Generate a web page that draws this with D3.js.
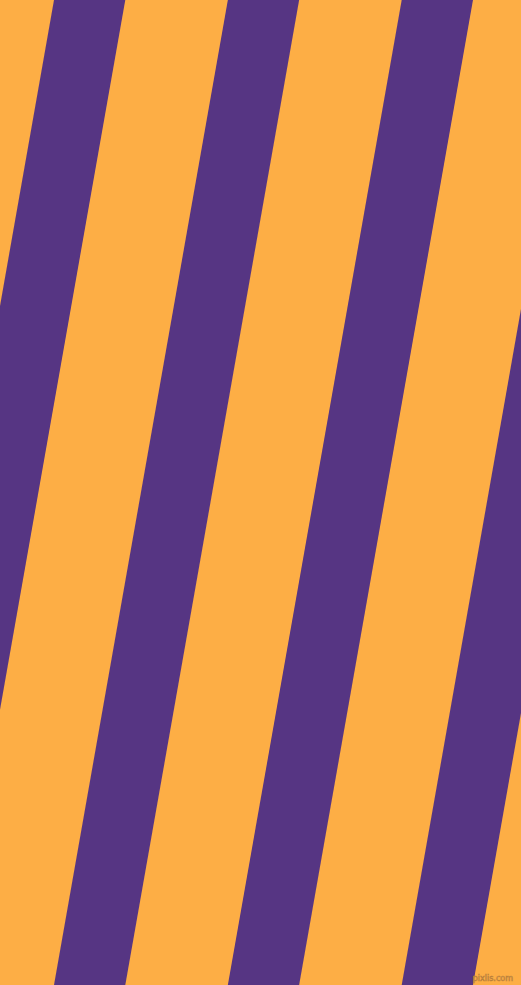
<!DOCTYPE html>
<html>
<head>
<meta charset="utf-8">
<script src="https://cdn.jsdelivr.net/npm/d3@7"></script>
<style>
  html, body { margin: 0; padding: 0; background: #fdae45; }
  svg { display: block; }
</style>
</head>
<body>
<script>
// stripe pattern, 80 degree bands
const width = 521;
const height = 985;

const stripes = [0, 1, 2, 3];           // purple band index
const bandColors = ["#fdae45", "#563583"]; // background, band
const bandShare = 0.41;                 // share of each period taken by a band
const watermark = "pixlis.com";

// band index -> x where the band's left edge meets the top edge
const x = d3.scaleLinear().domain([0, 1]).range([54, 227.85]);
// y -> horizontal drift of an edge (one full period over the height)
const drift = d3.scaleLinear().domain([0, height]).range([0, x(1) - x(0)]);

const svg = d3.select("body")
  .append("svg")
  .attr("width", width)
  .attr("height", height)
  .attr("viewBox", [0, 0, width, height]);

svg.append("rect")
  .attr("width", width)
  .attr("height", height)
  .attr("fill", bandColors[0]);

const line = d3.line();

svg.selectAll("path.band")
  .data(stripes)
  .join("path")
  .attr("class", "band")
  .attr("fill", bandColors[1])
  .attr("d", (d) => {
    const x0 = x(d);
    const x1 = x(d + bandShare);
    return line([
      [x0 - drift(0), 0],
      [x1 - drift(0), 0],
      [x1 - drift(height), height],
      [x0 - drift(height), height]
    ]) + "Z";
  });

svg.append("text")
  .attr("x", 513)
  .attr("y", 981)
  .attr("text-anchor", "end")
  .attr("font-family", "DejaVu Sans, sans-serif")
  .attr("font-size", 8)
  .attr("fill", "#fdb660")
  .attr("stroke", "#b9803a")
  .attr("stroke-width", 0.6)
  .text(watermark);
</script>
</body>
</html>
